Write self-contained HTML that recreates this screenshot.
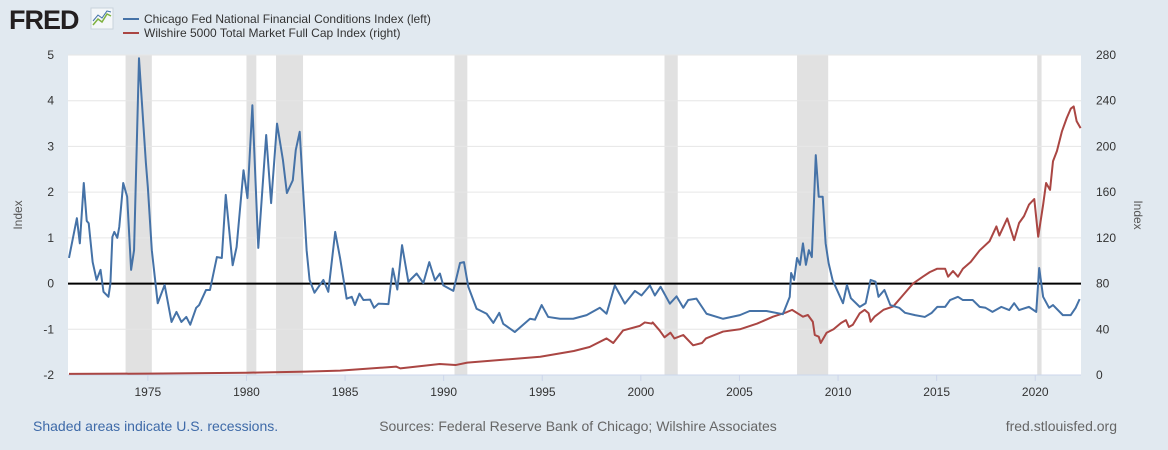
<!DOCTYPE html>
<html><head><meta charset="utf-8"><style>
html,body{margin:0;padding:0;background:#e1e9f0;font-family:"Liberation Sans",Arial,sans-serif;}
#wrap{position:relative;width:1168px;height:450px;overflow:hidden;}
</style></head><body>
<div id="wrap">
<svg id="chart" width="1168" height="450" xmlns="http://www.w3.org/2000/svg">
  <rect x="0" y="0" width="1168" height="450" fill="#e1e9f0"/>
  <g>
    <text x="9" y="29" font-size="27" font-weight="bold" fill="#231f20" letter-spacing="-1">FRED</text>
    <rect x="91" y="8" width="22" height="21" fill="#f4f7f9" stroke="#c9d3dc"/>
    <polyline points="93,25 98,19 102,22 107,14 111,16" fill="none" stroke="#7fb23f" stroke-width="1.5"/>
    <polyline points="93,21 98,15 102,18 107,11 111,12" fill="none" stroke="#4472a8" stroke-width="1"/>
  </g>
  <g>
    <line x1="123" y1="19" x2="139" y2="19" stroke="#4572a7" stroke-width="2"/>
    <text x="144" y="23" font-size="12" fill="#333">Chicago Fed National Financial Conditions Index (left)</text>
    <line x1="123" y1="33" x2="139" y2="33" stroke="#aa4643" stroke-width="2"/>
    <text x="144" y="37" font-size="12" fill="#333">Wilshire 5000 Total Market Full Cap Index (right)</text>
  </g>
  <rect x="68" y="55" width="1013" height="320" fill="#ffffff"/>
  <g id="rec"></g>
  <g id="grid"></g>
  <g id="axes"></g>
  <g id="series"></g>
  <text transform="translate(22,215) rotate(-90)" font-size="12" fill="#555" text-anchor="middle">Index</text>
  <text transform="translate(1134,215) rotate(90)" font-size="12" fill="#555" text-anchor="middle">Index</text>
  <text x="33" y="431" font-size="14" fill="#3e6aa8">Shaded areas indicate U.S. recessions.</text>
  <text x="578" y="431" font-size="14" fill="#666" text-anchor="middle">Sources: Federal Reserve Bank of Chicago; Wilshire Associates</text>
  <text x="1117" y="431" font-size="14" fill="#666" text-anchor="end">fred.stlouisfed.org</text>
</svg>
</div>
<script>
const xTicks=[1975,1980,1985,1990,1995,2000,2005,2010,2015,2020];
const leftTicks=[-2,-1,0,1,2,3,4,5];
const rightTicks=[0,40,80,120,160,200,240,280];
const recStart=[1973.87,1980.0,1981.5,1990.55,2001.2,2007.92,2020.1];
const recEnd=[1975.2,1980.5,1982.87,1991.2,2001.87,2009.5,2020.32];
const nfciT=[1971.0,1971.4,1971.55,1971.75,1971.9,1972.0,1972.2,1972.4,1972.6,1972.75,1973.0,1973.1,1973.2,1973.3,1973.45,1973.55,1973.75,1973.95,1974.15,1974.3,1974.55,1974.9,1975.0,1975.2,1975.5,1975.85,1976.2,1976.45,1976.7,1976.95,1977.15,1977.45,1977.6,1977.95,1978.15,1978.5,1978.75,1978.95,1979.3,1979.5,1979.85,1980.05,1980.3,1980.6,1981.0,1981.25,1981.55,1981.85,1982.05,1982.35,1982.5,1982.7,1983.05,1983.2,1983.45,1983.9,1984.15,1984.5,
1984.75,1985.08,1985.34,1985.5,1985.73,1985.93,1986.27,1986.47,1986.69,1987.2,1987.42,1987.65,1987.89,1988.21,1988.63,1988.97,1989.27,1989.56,1989.81,1989.98,1990.49,1990.83,1991.03,1991.25,1991.67,1992.18,1992.52,1992.82,1993.02,1993.61,1993.95,1994.38,1994.63,1994.97,1995.3,1995.9,1996.57,1997.25,1997.92,1998.26,1998.68,1999.19,1999.7,2000.03,2000.46,2000.71,2001.0,2001.47,2001.81,2002.15,2002.4,2002.82,2003.33,2004.17,2005.02,2005.52,2006.37,2007.2,2007.55,
2007.62,2007.77,2007.92,2008.07,2008.22,2008.37,2008.52,2008.67,2008.87,2009.02,2009.22,2009.37,2009.52,2009.72,2010.25,2010.45,2010.65,2011.1,2011.4,2011.65,2011.9,2012.05,2012.35,2012.65,2013.1,2013.4,2013.9,2014.4,2014.75,2015.03,2015.43,2015.68,2016.08,2016.33,2016.83,2017.18,2017.48,2017.83,2018.28,2018.68,2018.93,2019.18,2019.68,2020.05,2020.2,2020.4,2020.7,2020.9,2021.4,2021.8,2022.05,2022.25];
const nfciV=[0.56,1.43,0.88,2.2,1.37,1.32,0.47,0.08,0.3,-0.18,-0.29,0,1.02,1.13,1.0,1.24,2.2,1.9,0.3,0.73,4.93,2.64,2.1,0.73,-0.43,-0.03,-0.84,-0.62,-0.84,-0.73,-0.9,-0.53,-0.47,-0.14,-0.14,0.58,0.56,1.94,0.4,0.8,2.48,1.87,3.9,0.78,3.25,1.76,3.5,2.7,1.98,2.26,2.92,3.32,0.73,0.08,-0.2,0.08,-0.18,1.13,
0.55,-0.33,-0.29,-0.47,-0.22,-0.36,-0.35,-0.53,-0.44,-0.45,0.33,-0.13,0.84,0.04,0.22,0.01,0.47,0.07,0.22,-0.04,-0.16,0.45,0.47,-0.07,-0.55,-0.66,-0.86,-0.64,-0.88,-1.06,-0.93,-0.77,-0.79,-0.47,-0.73,-0.77,-0.77,-0.69,-0.53,-0.66,-0.04,-0.44,-0.16,-0.26,-0.04,-0.26,-0.07,-0.44,-0.28,-0.53,-0.36,-0.33,-0.66,-0.77,-0.69,-0.6,-0.6,-0.67,-0.29,
0.23,0.08,0.56,0.41,0.88,0.41,0.73,0.58,2.81,1.9,1.9,0.88,0.45,0.08,-0.43,-0.03,-0.32,-0.51,-0.43,0.08,0.04,-0.29,-0.14,-0.47,-0.53,-0.64,-0.69,-0.73,-0.64,-0.51,-0.51,-0.36,-0.29,-0.36,-0.36,-0.51,-0.53,-0.62,-0.51,-0.58,-0.43,-0.58,-0.51,-0.62,0.34,-0.29,-0.53,-0.47,-0.69,-0.69,-0.53,-0.34];
const wilT=[1971.0,1975,1980,1983,1984.75,1987.6,1987.8,1989.8,1990.6,1991.2,1994.9,1996.6,1997.4,1998.26,1998.6,1999.1,1999.95,2000.2,2000.55,2000.6,2000.95,2001.2,2001.5,2001.7,2002.15,2002.65,2003.1,2003.3,2004.17,2005.02,2005.9,2006.7,2007.4,2007.67,2008.22,2008.47,2008.72,2008.82,2009.02,2009.12,2009.42,2009.77,2010.15,2010.4,2010.55,2010.75,2011.1,2011.35,2011.55,2011.65,2011.85,2012.3,2012.8,2013.3,2013.8,2014.3,2014.65,2015.03,2015.43,2015.58,2015.83,2016.08,2016.33,2016.73,2017.18,2017.68,2018.03,2018.18,2018.58,2018.93,2019.18,2019.43,2019.68,2019.95,2020.15,2020.4,2020.55,2020.75,2020.9,2021.1,2021.35,2021.6,2021.8,2021.95,2022.1,2022.3];
const wilV=[1,1.2,2,3,3.8,7.3,5.8,9.6,8.7,10.8,16,21,24.5,32,28,39,43,46,45,46,39,33,37,32,35,26,28,32,38,40,45,51,55,57,51,52.5,46.6,35,33.5,28,37,40,45.5,48,42,44,54,57,54,46.6,51,57,60,70,80,86,90,93,93,86,91,86,93,99,109,117,130,122,137,118,133,139,149,154,121,149,168,162,187,196,213,225,233,235,222,216];

const NS="http://www.w3.org/2000/svg";
const L=68,R=1081,T=55,B=375,t0=1970.95,t1=2022.32;
const xs=t=>L+(t-t0)/(t1-t0)*(R-L);
const yl=v=>B-(v+2)/7*(B-T);
const yr=v=>B-v/280*(B-T);
function mk(tag,attrs,parent){const e=document.createElementNS(NS,tag);for(const k in attrs)e.setAttribute(k,attrs[k]);parent.appendChild(e);return e;}
const rec=document.getElementById('rec'),grid=document.getElementById('grid'),axes=document.getElementById('axes'),ser=document.getElementById('series');
recStart.forEach((s,i)=>{
  const r=mk('rect',{x:xs(s),y:T,width:xs(recEnd[i])-xs(s),height:B-T,fill:'#e1e1e1'},rec);
  
  
});
leftTicks.forEach(v=>{
  if(v!==0&&v!==-2){const g=mk('line',{x1:L,x2:R,y1:yl(v),y2:yl(v),stroke:'#e6e6e6','stroke-width':1},grid);
  
  }
  const t=mk('text',{x:54,y:yl(v)+4,'font-size':12,fill:'#333','text-anchor':'end'},axes);t.textContent=v;
  
  
});
rightTicks.forEach(v=>{
  const t=mk('text',{x:1096,y:yr(v)+4,'font-size':12,fill:'#333'},axes);t.textContent=v;
  
  
});
mk('line',{x1:L,x2:R,y1:B,y2:B,stroke:'#ccd6eb','stroke-width':1},axes);
xTicks.forEach(y=>{
  const x=xs(y);
  mk('line',{x1:x,x2:x,y1:B,y2:B+6,stroke:'#ccd6eb'},axes);
  const t=mk('text',{x:x,y:396,'font-size':12,fill:'#333','text-anchor':'middle'},axes);t.textContent=y;
  
  
});
const zl=mk('line',{x1:L,x2:R,y1:yl(0),y2:yl(0),stroke:'#000','stroke-width':2},ser);


const wp=mk('polyline',{points:wilT.map((t,i)=>xs(t)+','+yr(wilV[i])).join(' '),fill:'none',stroke:'#aa4643','stroke-width':2,'stroke-linejoin':'round'},ser);


const np=mk('polyline',{points:nfciT.map((t,i)=>xs(t)+','+yl(nfciV[i])).join(' '),fill:'none',stroke:'#4572a7','stroke-width':2,'stroke-linejoin':'round'},ser);


</script>
</body></html>
